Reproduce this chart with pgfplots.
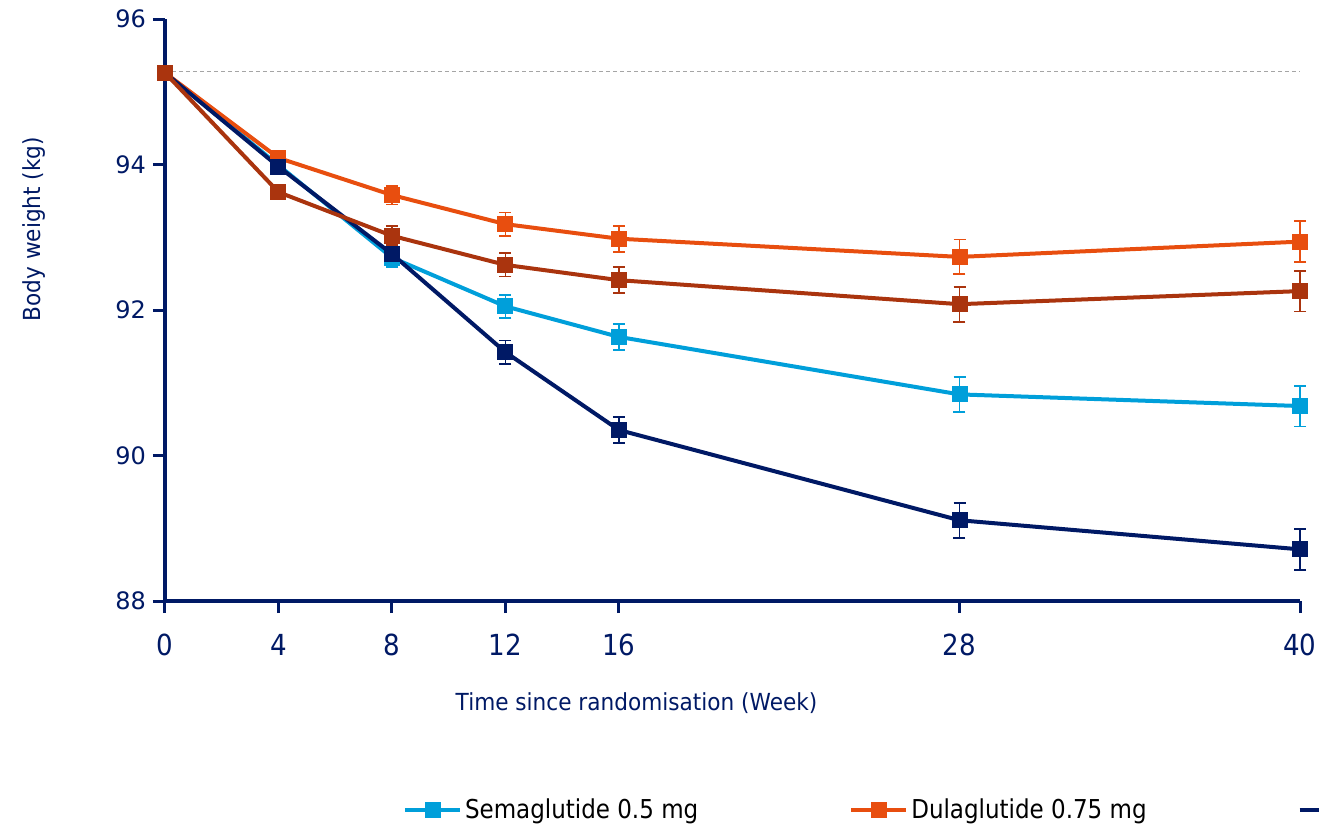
\documentclass[border=0pt]{standalone}
\usepackage{fontspec}
\setmainfont{DejaVu Sans}
\newfontfamily\tahoma{DejaVu Sans}[FakeStretch=0.9]
\newfontfamily\tahomal{DejaVu Sans}[FakeStretch=0.885]
\newfontfamily\tahomab{DejaVu Sans}[FakeStretch=0.92]
\usepackage{pgfplots}
\pgfplotsset{compat=1.18}
\definecolor{navy}{RGB}{0,25,101}
\definecolor{lightblue}{RGB}{0,159,218}
\definecolor{dorange}{RGB}{232,78,15}
\definecolor{dbrown}{RGB}{170,52,14}
\definecolor{dashgray}{RGB}{165,165,165}
\begin{document}
\begin{tikzpicture}
\begin{axis}[
  at={(0,0)}, anchor=south west,
  scale only axis, width=567.5pt, height=291pt,
  xmin=0, xmax=40, ymin=88, ymax=96,
  clip=false,
  axis x line=bottom, axis y line=left,
  axis line style={-, line width=1.7pt, navy},
  xtick={0,4,8,12,16,28,40},
  ytick={88,90,92,94,96},
  minor tick num=0,
  tick align=outside,
  major tick length=6pt,
  tick style={line width=1.5pt, navy},
  /pgf/number format/assume math mode=true,
  yticklabel style={font=\fontsize{12}{14}\selectfont, text=navy},
  xticklabel style={font=\tahoma\fontsize{14.5}{16}\selectfont, text=navy, yshift=-7pt},
  xlabel={Time since randomisation (Week)},
  ylabel={Body weight (kg)},
  xlabel style={font=\tahomab\fontsize{11.75}{14}\selectfont, text=navy, at={(axis description cs:0.4154,-0.1873)}, anchor=base},
  ylabel style={font=\tahomab\fontsize{11.75}{14}\selectfont, text=navy, at={(axis description cs:-0.1101,0.639)}, anchor=base},
  legend columns=3,
  legend style={at={(axis description cs:0.2097,-0.3591)}, anchor=west, draw=none, fill=none, inner sep=0pt, outer sep=0pt,
    font=\tahomal\fontsize{13}{15}\selectfont, text=black,
    nodes={inner xsep=1.5pt, inner ysep=0pt},
    /tikz/every even column/.append style={column sep=74pt}},
  legend image code/.code={\draw[mark repeat=2,mark phase=2,#1] plot coordinates {(0pt,0pt) (13.75pt,0pt) (27.5pt,0pt)};},
  every axis plot/.append style={line width=2pt, mark=square*, mark size=3.75pt, mark options={solid, line width=0.5pt}},
]
\addplot[dashgray, line width=0.5pt, dash pattern=on 2pt off 1.5pt, mark=none, forget plot] coordinates {(0,95.28) (40,95.28)};

\addplot[lightblue, error bars/.cd, y dir=both, y explicit,
  error bar style={line width=0.9pt, lightblue}, error mark options={rotate=90, lightblue, mark size=3pt, line width=0.9pt}]
  coordinates {(0,95.26) +- (0,0) (4,93.99) +- (0,0.08) (8,92.72) +- (0,0.13) (12,92.05) +- (0,0.16) (16,91.63) +- (0,0.18) (28,90.84) +- (0,0.24) (40,90.68) +- (0,0.28)};
\addlegendentry{Semaglutide 0.5 mg}

\addplot[dorange, error bars/.cd, y dir=both, y explicit,
  error bar style={line width=0.9pt, dorange}, error mark options={rotate=90, dorange, mark size=3pt, line width=0.9pt}]
  coordinates {(0,95.26) +- (0,0) (4,94.09) +- (0,0.08) (8,93.58) +- (0,0.13) (12,93.18) +- (0,0.16) (16,92.98) +- (0,0.18) (28,92.73) +- (0,0.24) (40,92.94) +- (0,0.28)};
\addlegendentry{Dulaglutide 0.75 mg}

\addplot[navy, error bars/.cd, y dir=both, y explicit,
  error bar style={line width=0.9pt, navy}, error mark options={rotate=90, navy, mark size=3pt, line width=0.9pt}]
  coordinates {(0,95.26) +- (0,0) (4,93.97) +- (0,0.08) (8,92.77) +- (0,0.13) (12,91.42) +- (0,0.16) (16,90.35) +- (0,0.18) (28,89.11) +- (0,0.24) (40,88.71) +- (0,0.28)};
\addlegendentry{Semaglutide 1 mg}

\addplot[dbrown, forget plot, error bars/.cd, y dir=both, y explicit,
  error bar style={line width=0.9pt, dbrown}, error mark options={rotate=90, dbrown, mark size=3pt, line width=0.9pt}]
  coordinates {(0,95.26) +- (0,0) (4,93.62) +- (0,0.08) (8,93.02) +- (0,0.13) (12,92.62) +- (0,0.16) (16,92.41) +- (0,0.18) (28,92.08) +- (0,0.24) (40,92.26) +- (0,0.28)};
\end{axis}
\pgfresetboundingbox
\useasboundingbox (-82.5pt,-112.5pt) rectangle (577pt,300.5pt);
\end{tikzpicture}
\end{document}
